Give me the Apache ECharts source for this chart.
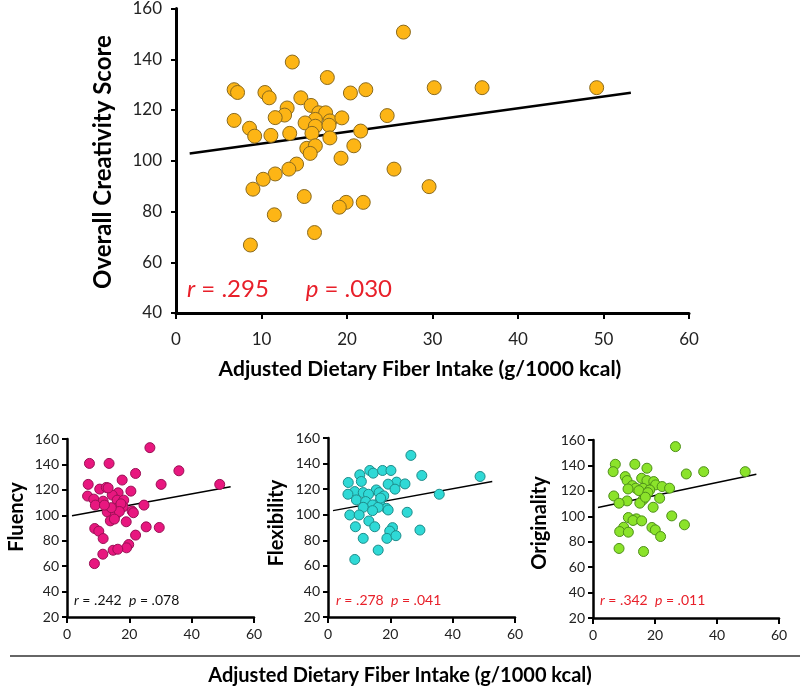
<!DOCTYPE html>
<html>
<head>
<meta charset="utf-8">
<script src="https://cdn.jsdelivr.net/npm/echarts@6/dist/echarts.min.js"></script>
<style>
html,body{margin:0;padding:0;background:#fff;}
#chart{width:800px;height:691px;}
</style>
</head>
<body>
<div id="chart"></div>
<script>
// ---------- Data ----------
// Main panel: adjusted dietary fiber (g/1000 kcal) vs overall creativity score
const mainFiber = [26.6,13.6,17.7,6.8,7.2,10.4,10.9,20.4,22.2,30.2,35.8,14.6,13.0,12.7,11.6,6.8,15.8,16.7,17.5,16.3,18.0,19.4,15.1,16.3,17.9,8.6,9.2,11.1,13.3,15.9,21.6,24.7,18.0,20.8,15.3,16.3,15.7,19.3,14.1,13.2,11.6,10.2,9.0,25.5,29.6,15.0,19.9,19.1,21.9,11.5,16.2,8.7,49.2];
const mainScore = [150.7,138.9,132.8,128,126.9,126.9,124.8,126.7,128,128.8,128.8,124.8,120.8,118,117,115.9,121.8,118.9,118.9,116.3,115.7,116.9,114.9,113.6,114,112.8,109.7,110,110.8,110.8,111.7,117.8,109,105.9,104.9,105.9,102.9,101,98.7,96.7,94.8,92.7,88.8,96.7,89.8,85.9,83.6,81.7,83.6,78.7,71.7,66.8,128.8];
const mainFitX = [1.6, 53.2];
const mainFitY = [102.9, 126.8];

const fluFiber = [26.6,7.2,13.5,35.9,22.0,17.7,6.8,30.2,49,10.5,12.6,20.5,16.4,6.6,8.6,11.6,14.5,16.1,9.1,24.7,18.2,18,15.9,20.9,12.9,15.5,13.9,19,25.4,29.6,8.9,10.2,22,11.6,19.8,19.1,14.8,16.3,11.5,8.8,13.2,17.3,16.8,14.2,12.0,21.3,15.2];
const fluScore = [153.2,140.8,140.8,135,132.9,127.7,124.3,124.3,124.3,120.6,121.9,119,117.7,115.1,112.7,111.1,115.9,111.9,108,108,111.9,106.7,105.4,103.3,102.7,100.1,95.6,94.9,90.9,90.4,89.6,87.5,84.4,81.7,77,74.4,72.5,73.3,69.4,62,121.5,109,103,106,108,102,97];
const fluFitX = [1.6, 52.5];
const fluFitY = [99.6, 122.4];

const flxFiber = [26.6,13.4,14.5,17.5,20.2,10.2,30.1,48.8,10.7,6.5,22,24.7,19.3,15.5,21.5,8.6,11.3,13,6.4,35.7,16.4,17.9,9.1,12.1,16.6,14.3,11.3,18.8,16.1,19.3,14.3,25.4,7,10,13.1,8.8,15,20.7,19.8,29.5,11.3,18.9,21.8,16.1,8.6,16.9];
const flxScore = [146.4,134.6,132.5,134.6,134.6,131.2,130.7,129.9,126,125.2,125.5,124.1,123.9,119.4,120,118.1,117.3,116,116,116,117.3,114.7,111.6,110.3,110.3,107.7,105.8,105,105.8,103.7,103.2,101.9,99.8,99.8,95.1,90.6,90.6,89.9,87.2,88,81.5,81.5,83.6,72.3,65,113];
const flxFitX = [1.6, 52.7];
const flxFitY = [103.2, 126.0];

const oriFiber = [26.6,7.2,13.5,6.5,17.4,30.1,35.7,49.1,10.4,11,15.7,17.4,19.6,20.2,22.3,24.7,12.7,13.8,11.3,16.1,18.3,14.8,17.7,6.7,21.5,16.1,11,8.4,15.1,19.4,25.4,11.4,14,12.9,15.7,29.5,9.9,19,20.1,8.6,11.4,21.8,8.4,16.3,16.9];
const oriScore = [154.8,140.9,140.9,135.1,137.8,133.3,135.1,135.1,131.2,128.1,129.9,128.1,127.3,124.7,123.4,122.1,124.1,122.1,121.5,122,120.7,120.2,118.6,116,114.2,112.9,112.1,110.3,110.3,107.1,100.3,99,98,96.7,96.4,93.3,91.4,91.2,89.3,88,87.5,84.1,74.7,72.3,115];
const oriFitX = [1.6, 52.7];
const oriFitY = [106.9, 133.0];

const mainYTicks = {min: 40, max: 160, interval: 20};
const subYTicks = {min: 20, max: 160, interval: 20};
const mainXTicks = {min: 0, max: 60, interval: 10};
const subXTicks = {min: 0, max: 60, interval: 20};

// ---------- Helpers ----------
const pairs = (xs, ys) => xs.map((x, i) => [x, ys[i]]);
const FONT = 'Lato';

function mkX(idx, t, fs, lw) {
  return {
    type: 'value', gridIndex: idx, min: t.min, max: t.max, interval: t.interval,
    splitLine: {show: false},
    axisLine: {show: true, onZero: false, lineStyle: {color: '#000', width: lw}},
    axisTick: {show: true, length: 6, lineStyle: {color: '#000', width: 2}},
    axisLabel: {fontFamily: FONT, fontSize: fs, color: '#222', margin: fs > 15 ? 18 : 10}
  };
}
function mkY(idx, t, fs, lw) {
  return {
    type: 'value', gridIndex: idx, min: t.min, max: t.max, interval: t.interval,
    splitLine: {show: false},
    axisLine: {show: true, onZero: false, lineStyle: {color: '#000', width: lw}},
    axisTick: {show: true, length: 5, lineStyle: {color: '#000', width: 2}},
    axisLabel: {fontFamily: FONT, fontSize: fs, color: '#222', margin: fs > 15 ? 14 : 8}
  };
}
function scat(idx, xs, ys, color, border, size) {
  return {
    type: 'scatter', xAxisIndex: idx, yAxisIndex: idx, data: pairs(xs, ys),
    symbolSize: size, silent: true,
    itemStyle: {color: color, borderColor: border, borderWidth: 1, opacity: 1}
  };
}
function fit(idx, xs, ys, w) {
  return {
    type: 'line', xAxisIndex: idx, yAxisIndex: idx, data: pairs(xs, ys),
    showSymbol: false, silent: true, z: 1,
    lineStyle: {color: '#000', width: w}
  };
}
function statText(x, y, r, p, color, fs) {
  return {
    type: 'text', left: x, top: y - fs * 0.65, silent: true,
    style: {
      text: '{i|r} = ' + r + (fs > 18 ? '      ' : '  ') + '{i|p} = ' + p,
      rich: {i: {fontStyle: 'italic', fontFamily: FONT, fontSize: fs, fill: color}},
      fontFamily: FONT, fontSize: fs, fill: color
    }
  };
}
function vTitle(cx, cy, text, fs) {
  return {
    type: 'text', x: cx, y: cy, rotation: Math.PI / 2, silent: true,
    style: {text: text, fontFamily: FONT, fontWeight: 'bold', fontSize: fs, fill: '#000',
      textAlign: 'center', textVerticalAlign: 'middle'}
  };
}
function hTitle(cx, cy, text, fs) {
  return {
    type: 'text', x: cx, y: cy, silent: true,
    style: {text: text, fontFamily: FONT, fontWeight: 'bold', fontSize: fs, fill: '#000',
      textAlign: 'center', textVerticalAlign: 'middle'}
  };
}

const chart = echarts.init(document.getElementById('chart'));
chart.setOption({
  backgroundColor: '#fff',
  animation: false,
  grid: [
    {left: 176, top: 8, width: 513, height: 305},
    {left: 67, top: 439, width: 187, height: 178},
    {left: 328, top: 438, width: 187, height: 179},
    {left: 593, top: 440, width: 186, height: 178}
  ],
  xAxis: [mkX(0, mainXTicks, 17, 3), mkX(1, subXTicks, 14, 2.5), mkX(2, subXTicks, 14, 2.5), mkX(3, subXTicks, 14, 2.5)],
  yAxis: [mkY(0, mainYTicks, 17, 3), mkY(1, subYTicks, 14, 2.5), mkY(2, subYTicks, 14, 2.5), mkY(3, subYTicks, 14, 2.5)],
  series: [
    fit(0, mainFitX, mainFitY, 2.5),
    scat(0, mainFiber, mainScore, '#FDB515', '#8A6A1E', 14),
    fit(1, fluFitX, fluFitY, 1.5),
    scat(1, fluFiber, fluScore, '#E8177F', '#9A1055', 10),
    fit(2, flxFitX, flxFitY, 1.5),
    scat(2, flxFiber, flxScore, '#2FD9D6', '#1E8C8A', 10),
    fit(3, oriFitX, oriFitY, 1.5),
    scat(3, oriFiber, oriScore, '#8BE32A', '#4E8F1A', 10)
  ],
  graphic: [
    vTitle(103, 162, 'Overall Creativity Score', 24),
    hTitle(420, 369, 'Adjusted Dietary Fiber Intake (g/1000 kcal)', 21),
    statText(187, 293, '.295', '.030', '#E8202A', 24),
    vTitle(17, 517, 'Fluency', 20),
    vTitle(277, 523, 'Flexibility', 20),
    vTitle(540, 523, 'Originality', 20),
    statText(74, 603, '.242', '.078', '#111', 14),
    statText(336, 603, '.278', '.041', '#E8202A', 14),
    statText(600, 603, '.342', '.011', '#E8202A', 14),
    {type: 'line', silent: true, shape: {x1: 10, y1: 656, x2: 800, y2: 656}, style: {stroke: '#333', lineWidth: 1.5}},
    hTitle(400, 676, 'Adjusted Dietary Fiber Intake (g/1000 kcal)', 20)
  ]
});
</script>
</body>
</html>
